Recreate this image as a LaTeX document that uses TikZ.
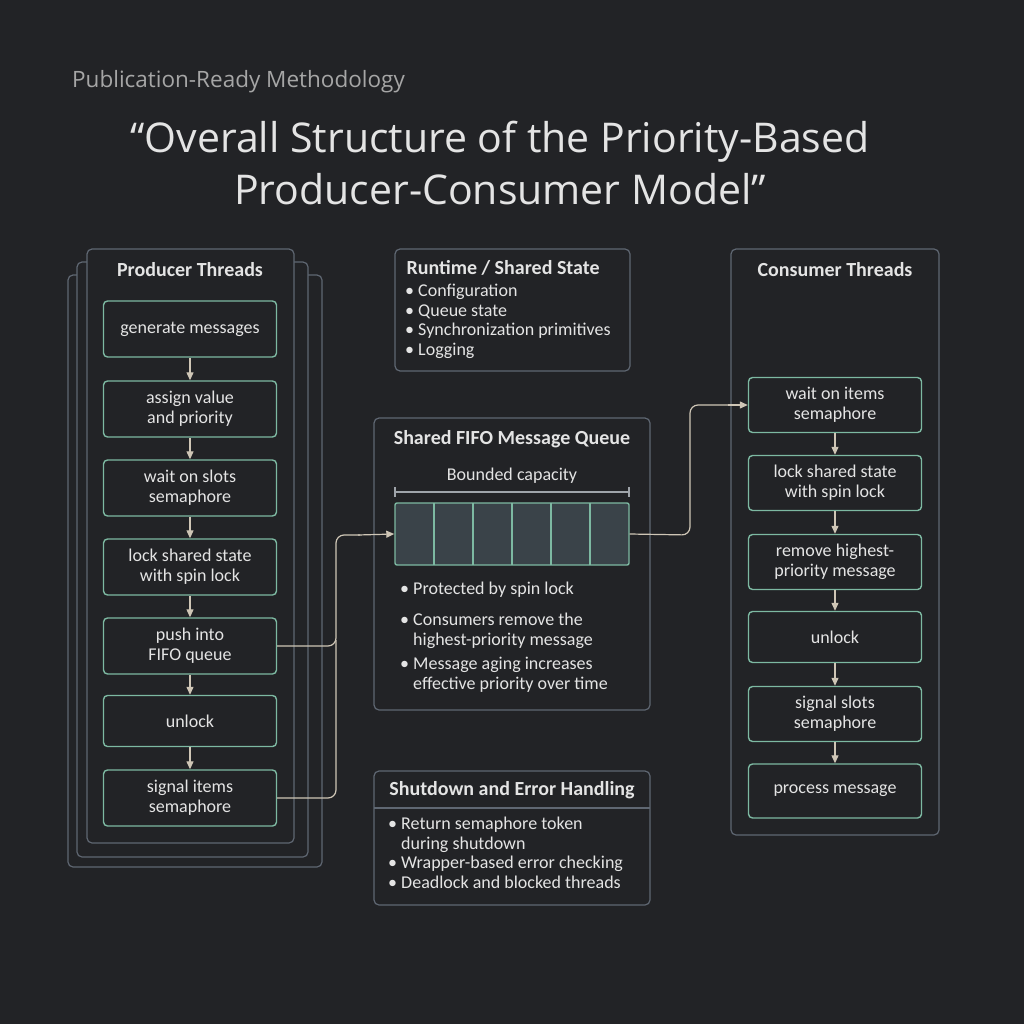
\documentclass[tikz,border=0pt]{standalone}
\usepackage{fontspec}
\setmainfont{Carlito}
\newfontfamily\titlefont{Open Sans}
\usetikzlibrary{arrows.meta}
\definecolor{bg}{HTML}{222326}
\definecolor{frm}{HTML}{5F6772}
\definecolor{grn}{HTML}{7DB9A2}
\definecolor{txt}{HTML}{E4E4E4}
\definecolor{arr}{HTML}{CFC6B6}
\definecolor{cell}{HTML}{3A4349}
\begin{document}
\begin{tikzpicture}[x=1pt,y=-1pt,
  frame/.style={draw=frm,line width=1.2pt,rounded corners=5pt},
  stp/.style={draw=grn,line width=1.4pt,rounded corners=4pt,minimum width=173pt,minimum height=56pt,align=center,text=txt,font=\fontsize{18}{20}\selectfont,inner sep=0pt},
  hd/.style={text=txt,font=\bfseries\fontsize{20}{22}\selectfont},
  bl/.style={text=txt,font=\fontsize{18}{19.5}\selectfont,align=left,anchor=north west,inner sep=0pt},
  ar/.style={draw=arr,line width=1.2pt,-{Triangle[length=8pt,width=7pt]}},
  ln/.style={draw=arr,line width=1.2pt,rounded corners=8pt}]
\fill[bg] (0,0) rectangle (1024,1024);
\useasboundingbox (0,0) rectangle (1024,1024);
\node[anchor=west,text=gray!70,font=\titlefont\fontsize{22.5}{26}\selectfont,inner sep=0pt] (sub) at (72,82) {Publication-Ready Methodology};
\node[align=center,text=txt,font=\titlefont\fontsize{41}{52}\selectfont] (title) at (500,163) {“Overall Structure of the Priority-Based\\Producer-Consumer Model”};
% producer frames
\draw[frame,fill=bg] (68,275) rectangle (322,867);
\draw[frame,fill=bg] (77,262) rectangle (308,857);
\draw[frame,fill=bg] (87,249) rectangle (294,843);
\node[hd] (ph) at (190,270) {Producer Threads};
\node[stp] (p1) at (190,329) {generate messages};
\node[stp] (p2) at (190,409) {assign value\\and priority};
\node[stp] (p3) at (190,488) {wait on slots\\semaphore};
\node[stp] (p4) at (190,567) {lock shared state\\with spin lock};
\node[stp] (p5) at (190,646) {push into\\FIFO queue};
\node[stp,minimum height=51pt] (p6) at (190,721) {unlock};
\node[stp] (p7) at (190,798) {signal items\\semaphore};
\foreach \a/\b in {p1/p2,p2/p3,p3/p4,p4/p5,p5/p6,p6/p7} \draw[ar] (\a) -- (\b);
% consumer
\draw[frame] (731,249) rectangle (939,835);
\node[hd] (ch) at (835,270) {Consumer Threads};
\node[stp,minimum height=55pt] (c1) at (835,405) {wait on items\\semaphore};
\node[stp,minimum height=55pt] (c2) at (835,483) {lock shared state\\with spin lock};
\node[stp,minimum height=55pt] (c3) at (835,562) {remove highest-\\priority message};
\node[stp,minimum height=51pt] (c4) at (835,637) {unlock};
\node[stp,minimum height=55pt] (c5) at (835,714) {signal slots\\semaphore};
\node[stp,minimum height=54pt] (c6) at (835,791) {process message};
\foreach \a/\b in {c1/c2,c2/c3,c3/c4,c4/c5,c5/c6} \draw[ar] (\a) -- (\b);
% runtime
\draw[frame] (395,249) rectangle (630,371);
\node[hd,anchor=west] (rt) at (403,268) {Runtime / Shared State};
\node[bl] (rtl) at (405,284) {• Configuration\\• Queue state\\• Synchronization primitives\\• Logging};
% queue
\draw[frame] (374,418) rectangle (650,710);
\node[hd] (qh) at (512,439) {Shared FIFO Message Queue};
\node[text=txt,font=\fontsize{18}{20}\selectfont] (bc) at (512,476) {Bounded capacity};
\draw[frm!60!white,line width=1.2pt] (395,487) -- (395,497) (395,492) -- (629,492) (629,487) -- (629,497);
\node[draw=grn,fill=cell,line width=1.4pt,minimum width=234pt,minimum height=62pt,inner sep=0pt,rounded corners=2pt] (q) at (512,534) {};
\foreach \i in {1,...,5} \draw[grn,line width=1.4pt] (395+\i*39,503) -- (395+\i*39,565);
\node[bl] (q1) at (400,582) {• Protected by spin lock};
\node[bl] (q2) at (400,613) {• Consumers remove the\\\hphantom{• }highest-priority message};
\node[bl] (q3) at (400,657) {• Message aging increases\\\hphantom{• }effective priority over time};
% shutdown
\draw[frame] (374,771) rectangle (650,905);
\draw[frm,line width=1.2pt] (374,808) -- (650,808);
\node[hd] (sh) at (512,790) {Shutdown and Error Handling};
\node[bl] (sl) at (388,817) {• Return semaphore token\\\hphantom{• }during shutdown\\• Wrapper-based error checking\\• Deadlock and blocked threads};
% connectors
\draw[ln] (p5.east) -- (336,646) -- (336,535) -- (360,535);
\draw[ln] (p7.east) -- (336,798) -- (336,640);
\draw[ar] (358,535) -- (q.west);
\draw[ln] (q.east) -- (690,535) -- (690,405) -- (730,405);
\draw[ar] (728,405) -- (c1.west);
\end{tikzpicture}
\end{document}
